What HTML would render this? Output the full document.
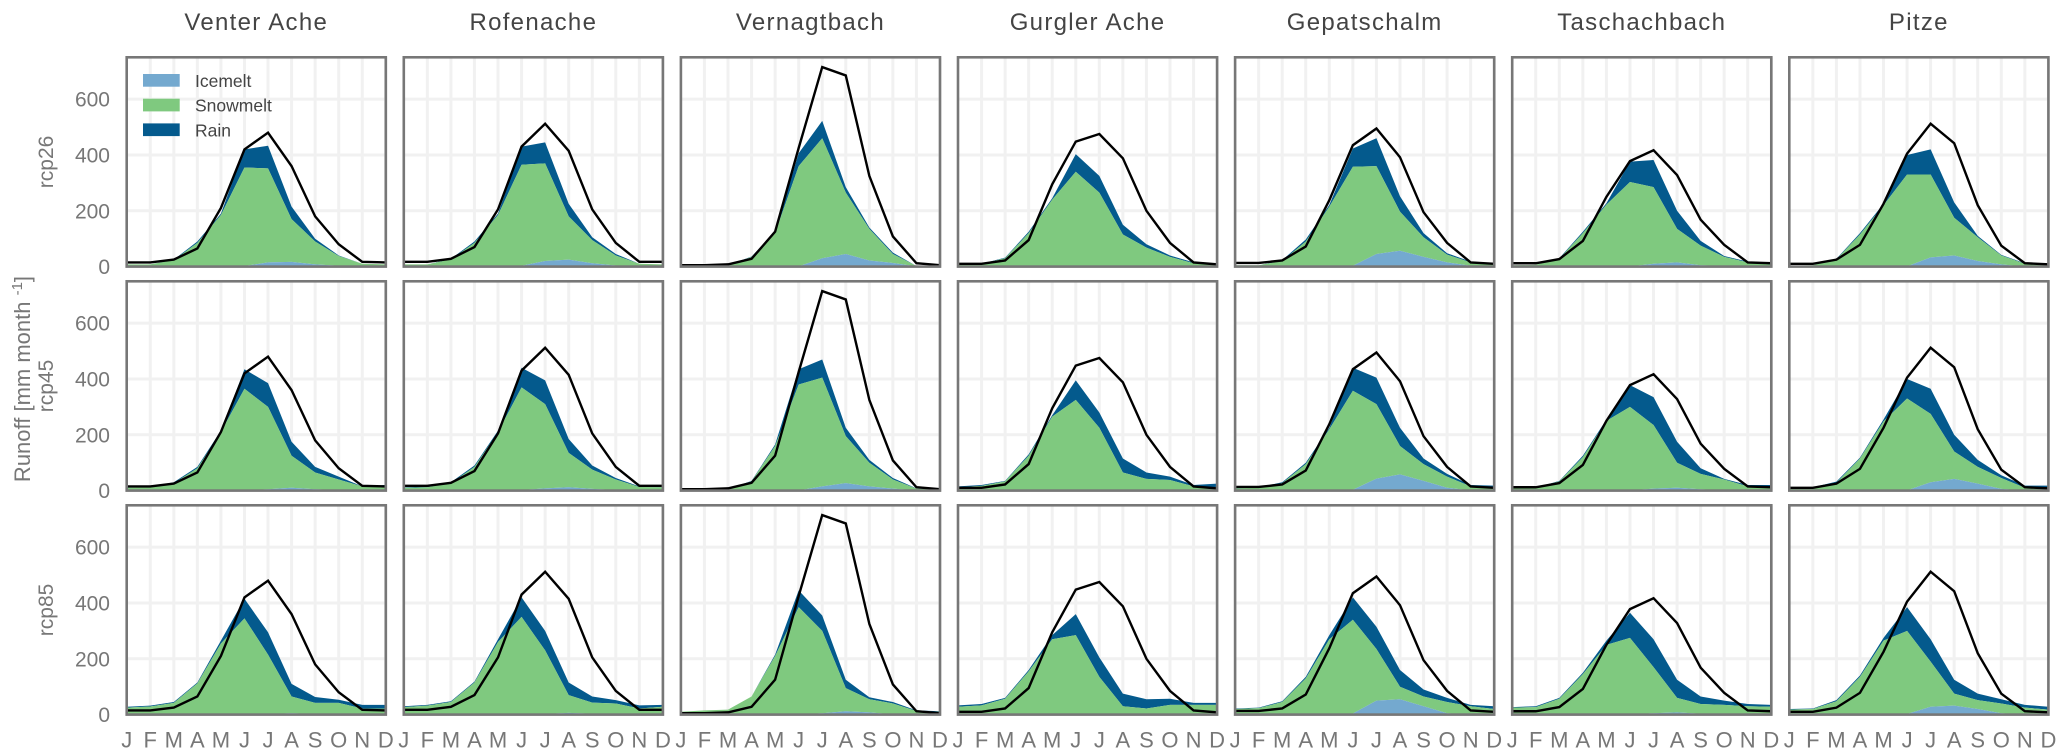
<!DOCTYPE html>
<html lang="en">
<head>
<meta charset="utf-8">
<title>Runoff components by basin and scenario</title>
<style>
html,body{margin:0;padding:0;background:#fff;width:2067px;height:756px;overflow:hidden}
svg{display:block}
text{font-family:"Liberation Sans",sans-serif}
</style>
</head>
<body>
<svg id="chart" xmlns="http://www.w3.org/2000/svg" width="2067" height="756" viewBox="0 0 2067 756"></svg>
<script>
const basins = ["Venter Ache","Rofenache","Vernagtbach","Gurgler Ache","Gepatschalm","Taschachbach","Pitze"];
const scenarios = ["rcp26","rcp45","rcp85"];
const months = ["J","F","M","A","M","J","J","A","S","O","N","D"];
const yTicks = [0,200,400,600];
const legendLabels = ["Icemelt","Snowmelt","Rain"];

const observedVenterAche = [15,15,25,65,210,420,480,360,180,80,17,15];
const observedRofenache = [17,17,28,70,205,430,512,415,205,85,17,17];
const observedVernagtbach = [5,5,8,28,125,425,715,685,325,108,12,5];
const observedGurglerAche = [10,10,22,95,295,448,475,388,200,85,15,8];
const observedGepatschalm = [13,13,22,72,238,435,495,392,195,85,15,10];
const observedTaschachbach = [12,12,27,92,250,378,417,328,168,78,15,12];
const observedPitze = [10,10,25,78,225,405,512,442,220,75,12,8];

const iceRcp26 = [
 [0,0,0,0,0,2,15,17,8,3,0,0],
 [0,0,0,0,0,3,20,25,12,4,0,0],
 [0,0,0,0,0,1,30,45,22,13,1,0],
 [0,0,0,0,0,0,2,3,1,0,0,0],
 [0,0,0,0,0,3,45,57,35,15,3,0],
 [0,0,0,0,0,1,10,15,5,2,0,0],
 [0,0,0,0,0,1,33,40,20,8,0,0]
];
const snowRcp26 = [
 [8,8,23,85,185,353,337,153,82,35,10,8],
 [8,8,26,85,185,362,350,155,83,36,10,8],
 [0,0,4,35,120,359,430,220,113,32,1,0],
 [8,10,30,120,240,340,263,112,67,35,12,8],
 [5,5,20,90,215,355,315,140,70,28,12,8],
 [5,6,28,120,222,302,275,120,70,33,15,7],
 [3,5,26,115,220,329,297,135,85,32,10,8]
];
const rainRcp26 = [
 [0,0,2,5,5,65,81,45,10,2,0,0],
 [0,0,2,5,5,65,75,45,10,5,0,0],
 [0,0,1,1,5,46,62,20,5,5,0,0],
 [0,0,2,5,5,63,60,35,12,5,3,2],
 [0,0,3,7,6,65,100,55,15,5,3,0],
 [0,0,2,5,5,73,97,65,17,3,3,1],
 [0,0,2,5,5,70,90,55,5,2,2,0]
];
const iceRcp45 = [
 [0,0,0,0,0,1,5,10,5,2,0,0],
 [0,0,0,0,0,2,8,12,6,2,0,0],
 [0,0,0,0,0,1,15,27,15,7,1,0],
 [0,0,0,0,0,0,1,2,1,0,0,0],
 [0,0,0,0,0,3,43,58,35,10,1,0],
 [0,0,0,0,0,1,7,10,5,1,0,0],
 [0,0,0,0,0,1,30,42,25,6,0,0]
];
const snowRcp45 = [
 [10,12,27,80,210,364,295,115,60,38,15,12],
 [10,12,27,85,210,368,302,123,69,38,13,12],
 [1,2,4,33,160,379,390,168,85,33,6,4],
 [12,17,33,125,265,325,224,63,41,38,15,12],
 [8,10,27,95,220,355,267,102,60,40,14,10],
 [8,10,33,120,250,299,228,90,55,39,15,10],
 [8,12,28,115,248,329,245,98,60,39,10,8]
];
const rainRcp45 = [
 [2,2,3,5,5,70,85,50,20,10,0,8],
 [2,2,3,5,5,70,85,50,15,5,2,8],
 [0,0,1,2,5,55,65,30,10,5,1,1],
 [3,3,2,5,5,70,55,50,23,12,5,13],
 [2,2,3,5,5,82,95,65,20,10,5,8],
 [0,0,2,5,5,78,100,75,20,2,5,10],
 [0,0,4,3,7,70,90,60,25,10,8,10]
];
const iceRcp85 = [
 [0,0,0,0,0,0,2,5,2,0,0,0],
 [0,0,0,0,0,1,2,6,3,1,0,0],
 [0,0,0,0,0,1,5,12,8,1,0,0],
 [0,0,0,0,0,0,0,0,0,0,0,0],
 [0,0,0,0,0,4,50,55,30,5,0,0],
 [0,0,0,0,0,0,5,8,3,0,0,0],
 [0,0,0,0,0,2,28,32,20,5,0,0]
];
const snowRcp85 = [
 [25,29,42,112,255,345,213,60,40,42,22,22],
 [27,32,45,115,260,349,228,64,40,39,22,28],
 [10,15,18,65,210,384,295,83,47,39,13,10],
 [28,33,57,155,270,285,135,30,22,35,35,35],
 [20,23,45,130,270,336,185,45,35,40,30,20],
 [25,27,57,145,250,275,165,52,35,35,30,28],
 [18,20,48,135,265,298,162,43,32,35,25,18]
];
const rainRcp85 = [
 [3,3,3,3,10,70,80,45,21,11,13,13],
 [3,3,3,3,10,70,70,45,22,12,11,7],
 [0,0,0,0,5,60,55,30,7,5,2,2],
 [5,5,3,5,15,75,70,45,33,22,7,7],
 [2,2,3,5,15,80,80,60,25,15,5,10],
 [2,3,3,5,15,90,100,65,27,15,8,7],
 [2,2,4,5,10,85,80,50,23,15,10,10]
];

const observedByBasin = [observedVenterAche,observedRofenache,observedVernagtbach,observedGurglerAche,observedGepatschalm,observedTaschachbach,observedPitze];
const iceByScenario = [iceRcp26,iceRcp45,iceRcp85];
const snowByScenario = [snowRcp26,snowRcp45,snowRcp85];
const rainByScenario = [rainRcp26,rainRcp45,rainRcp85];

const NS = "http://www.w3.org/2000/svg";
const svg = document.getElementById("chart");
const PANEL_LEFT = 126.7, PANEL_STEP = 277.1, PANEL_W = 259.1;
const PANEL_TOP = 57.3, ROW_STEP = 224, PANEL_H = 209.3;
const Y_MAX = 750;
const GRID = "#f1f1f1", FRAME = "#777777", TICK = "#777777";
const ICE = "#74a9cf", SNOW = "#7fc97f", RAIN = "#045a8d";

function make(tag, parent, attrs, txt) {
  const node = document.createElementNS(NS, tag);
  for (const k in attrs) node.setAttribute(k, attrs[k]);
  if (txt !== undefined) node.textContent = txt;
  parent.appendChild(node);
  return node;
}
function xScale(c, i) { return PANEL_LEFT + c * PANEL_STEP + i * PANEL_W / (months.length - 1); }
function yScale(r, v) { return PANEL_TOP + r * ROW_STEP + PANEL_H - v * PANEL_H / Y_MAX; }
function sum(a, b) { return a.map((v, i) => v + b[i]); }
function bandPath(c, r, lower, upper) {
  let d = "";
  upper.forEach((v, i) => { d += (i ? "L" : "M") + xScale(c, i).toFixed(2) + " " + yScale(r, v).toFixed(2); });
  for (let i = lower.length - 1; i >= 0; i--) d += "L" + xScale(c, i).toFixed(2) + " " + yScale(r, lower[i]).toFixed(2);
  return d + "Z";
}

basins.forEach((name, c) => {
  const t = make("text", svg, {x: PANEL_LEFT + c * PANEL_STEP + PANEL_W / 2, y: 30, "text-anchor": "middle", "font-size": 24, "letter-spacing": 1.3, fill: "#444"}, name);
  
  
});

scenarios.forEach((scenario, r) => {
  const cy = PANEL_TOP + r * ROW_STEP + PANEL_H / 2;
  const rl = make("text", svg, {x: 0, y: 0, transform: "translate(53 " + cy + ") rotate(-90)", "text-anchor": "middle", "font-size": 21, fill: TICK}, scenario);
  
  

  yTicks.forEach(v => {
    const yl = make("text", svg, {x: 110, y: yScale(r, v) + 7.5, "text-anchor": "end", "font-size": 21, fill: TICK}, String(v));
    
    
  });

  basins.forEach((name, c) => {
    const g = make("g", svg, {});
    
    

    months.forEach((m, i) => {
      if (i === 0) return;
      const gx = make("line", g, {x1: xScale(c, i), x2: xScale(c, i), y1: yScale(r, Y_MAX), y2: yScale(r, 0), stroke: GRID, "stroke-width": 3});
      
      
    });
    yTicks.forEach(v => {
      if (v === 0) return;
      const gy = make("line", g, {x1: xScale(c, 0), x2: xScale(c, 11), y1: yScale(r, v), y2: yScale(r, v), stroke: GRID, "stroke-width": 3});
      
      
    });

    const ice = iceByScenario[r][c];
    const iceSnow = sum(ice, snowByScenario[r][c]);
    const total = sum(iceSnow, rainByScenario[r][c]);
    const zero = ice.map(() => 0);

    const rainArea = make("path", g, {d: bandPath(c, r, iceSnow, total), fill: RAIN});
    
    
    const snowArea = make("path", g, {d: bandPath(c, r, ice, iceSnow), fill: SNOW});
    
    
    const iceArea = make("path", g, {d: bandPath(c, r, zero, ice), fill: ICE});
    
    

    const pts = observedByBasin[c].map((v, i) => xScale(c, i).toFixed(2) + "," + yScale(r, v).toFixed(2)).join(" ");
    const obs = make("polyline", g, {points: pts, fill: "none", stroke: "#000", "stroke-width": 2.4, "stroke-linejoin": "miter"});
    
    

    const frame = make("rect", g, {x: xScale(c, 0), y: yScale(r, Y_MAX), width: PANEL_W, height: PANEL_H, fill: "none", stroke: FRAME, "stroke-width": 2.6});
    
    
  });
});

basins.forEach((name, c) => {
  months.forEach((m, i) => {
    const ml = make("text", svg, {x: xScale(c, i), y: 747.5, "text-anchor": "middle", "font-size": 22, fill: TICK}, m);
    
    
  });
});

const yTitle = make("text", svg, {x: 0, y: 0, transform: "translate(30 379) rotate(-90)", "text-anchor": "middle", "font-size": 22, fill: TICK});


make("tspan", yTitle, {}, "Runoff [mm month ");
make("tspan", yTitle, {dy: -8, "font-size": 15}, "-1");
make("tspan", yTitle, {dy: 8}, "]");

const legendColors = [ICE, SNOW, RAIN];
const legend = make("g", svg, {});


legendLabels.forEach((label, i) => {
  const sw = make("rect", legend, {x: 143, y: 74 + i * 24.7, width: 36.7, height: 12.7, fill: legendColors[i]});
  
  
  const lt = make("text", legend, {x: 195, y: 87 + i * 24.7, "font-size": 17.5, fill: "#444"}, label);
  
  
});
</script>
</body>
</html>
